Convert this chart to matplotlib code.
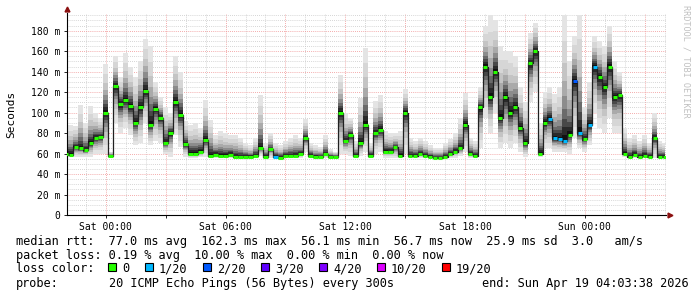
import numpy as np
import matplotlib
matplotlib.use('Agg')
import matplotlib.pyplot as plt
from matplotlib.ticker import MultipleLocator, FuncFormatter
from matplotlib.patches import Rectangle

# time axis: hours relative to Sat 00:00, one sample every 15 minutes
t_start = -2.0
t_step = 0.25

# median rtt per sample (ms)
median = [60, 59, 66, 65, 63, 70, 75, 76, 100, 58,
          126, 108, 112, 106, 90, 105, 121, 88, 104, 95,
          70, 80, 110, 98, 69, 60, 60, 62, 73, 58,
          59, 58, 58, 59, 57, 57, 57, 57, 58, 65,
          57, 64, 57, 56, 58, 58, 58, 60, 75, 58,
          57, 57, 60, 57, 57, 100, 72, 78, 58, 70,
          88, 58, 80, 83, 62, 62, 66, 58, 100, 58,
          58, 60, 58, 57, 56, 56, 57, 60, 62, 65,
          88, 60, 58, 105, 145, 115, 140, 95, 115, 100,
          105, 85, 70, 148, 160, 60, 90, 94, 75, 74,
          72, 78, 131, 80, 74, 88, 145, 135, 125, 145,
          115, 117, 60, 57, 59, 57, 58, 57, 75, 57,
          57]

# fastest ping per sample (bottom of the smoke)
lo = [57, 57, 57, 57, 57, 57, 60, 60, 60, 56,
      90, 80, 85, 78, 68, 70, 90, 68, 72, 70,
      60, 57, 78, 66, 57, 56, 56, 57, 57, 56,
      56, 56, 56, 56, 56, 56, 56, 56, 56, 58,
      56, 56, 56, 56, 56, 56, 56, 56, 62, 56,
      56, 56, 56, 56, 56, 60, 60, 58, 56, 58,
      62, 56, 60, 62, 56, 56, 56, 56, 60, 56,
      56, 56, 56, 56, 56, 56, 56, 56, 56, 58,
      62, 56, 56, 65, 95, 80, 100, 65, 70, 65,
      70, 62, 57, 110, 120, 57, 65, 65, 62, 62,
      62, 60, 75, 65, 62, 68, 100, 85, 80, 95,
      80, 80, 57, 56, 56, 56, 56, 56, 56, 56,
      56]

# slowest ping per sample (top of the smoke)
hi = [80, 88, 87, 107, 90, 106, 100, 95, 147, 62,
      155, 135, 158, 145, 135, 150, 172, 165, 130, 115,
      105, 100, 155, 140, 92, 88, 90, 85, 112, 93,
      78, 82, 80, 78, 78, 75, 70, 68, 75, 117,
      70, 80, 70, 68, 72, 75, 78, 75, 94, 70,
      68, 66, 78, 64, 62, 137, 100, 95, 72, 114,
      163, 70, 111, 117, 82, 80, 80, 82, 123, 75,
      72, 75, 72, 68, 65, 65, 70, 74, 80, 95,
      119, 75, 72, 125, 185, 195, 190, 165, 160, 160,
      155, 125, 110, 178, 188, 90, 120, 125, 118, 125,
      195, 150, 175, 195, 105, 130, 175, 170, 165, 185,
      150, 140, 85, 75, 78, 72, 78, 70, 100, 72,
      70]

# lost pings out of 20 per sample
loss = [0] * len(median)
loss[42] = 1
loss[97] = 1
loss[98] = 1
loss[99] = 1
loss[100] = 1
loss[102] = 2
loss[103] = 1
loss[105] = 1
loss[106] = 1

loss_levels = [0, 1, 2, 3, 4, 10, 19]
loss_colors = ['#26ff00', '#00b8ff', '#0059ff', '#5e00ff', '#7e00ff', '#dd00ff', '#ff0000']
loss_labels = ['0', '1/20', '2/20', '3/20', '4/20', '10/20', '19/20']

time_labels = {0: 'Sat 00:00', 6: 'Sat 06:00', 12: 'Sat 12:00', 18: 'Sat 18:00', 24: 'Sun 00:00'}

mono = 'DejaVu Sans Mono'

t = t_start + t_step * np.arange(len(median))
med = np.array(median, dtype=float)
lo_a = np.array(lo, dtype=float)
hi_a = np.array(hi, dtype=float)


def loss_color(n):
    c = loss_colors[0]
    for lv, col in zip(loss_levels, loss_colors):
        if n >= lv:
            c = col
    return c


fig = plt.figure(figsize=(6.97, 2.97), dpi=100)
ax = fig.add_axes([67 / 697, 82 / 297, 599 / 697, 202 / 297])

# smoke, lighter further away from the median
fracs = [1.0, 0.8, 0.62, 0.48, 0.36, 0.26, 0.18, 0.11, 0.05]
grays = ['#e4e4e4', '#d6d6d6', '#c4c4c4', '#aaaaaa', '#8c8c8c', '#6a6a6a', '#484848', '#2a2a2a', '#111111']
for f, g in zip(fracs, grays):
    ax.fill_between(t, med - (med - lo_a) * f, med + (hi_a - med) * f,
                    step='mid', color=g, lw=0, zorder=2)

ax.plot(t, med, drawstyle='steps-mid', color='#202020', lw=0.9, zorder=3)
ax.hlines(med, t - t_step * 0.45, t + t_step * 0.45,
          colors=[loss_color(n) for n in loss], lw=2.2, zorder=4)

ax.set_xlim(-1.94, 28.06)
ax.set_ylim(0, 197.3)

ax.xaxis.set_major_locator(MultipleLocator(3))
ax.xaxis.set_minor_locator(MultipleLocator(1))
ax.xaxis.set_major_formatter(FuncFormatter(lambda v, p: time_labels.get(int(round(v)), '')))
ax.yaxis.set_major_locator(MultipleLocator(20))
ax.yaxis.set_minor_locator(MultipleLocator(5))
ax.yaxis.set_major_formatter(FuncFormatter(lambda v, p: '0' if v == 0 else '%d m' % v))

ax.set_axisbelow(True)
ax.grid(which='minor', color='#c8c8c8', linestyle=(0, (1, 1.5)), lw=0.6)
ax.grid(which='major', color='#f09090', linestyle=(0, (1, 1.5)), lw=0.6)

for s in ['top', 'right']:
    ax.spines[s].set_visible(False)
for s in ['left', 'bottom']:
    ax.spines[s].set_color('black')
    ax.spines[s].set_linewidth(0.8)

ax.tick_params(which='major', length=2, width=0.6, pad=3, labelsize=7)
ax.tick_params(which='minor', length=0)
for lab in ax.get_xticklabels() + ax.get_yticklabels():
    lab.set_family(mono)

ax.plot(0, 1.02, marker='^', ms=3.5, color='#8b1010', transform=ax.transAxes, clip_on=False)
ax.plot(1.006, 0, marker='>', ms=3.5, color='#8b1010', transform=ax.transAxes, clip_on=False)

fig.text(11 / 697, 1 - 114 / 297, 'Seconds', rotation=90, ha='center', va='center',
         family=mono, size=8)
fig.text(686 / 697, 1 - 61 / 297, 'RRDTOOL / TOBI OETIKER', rotation=270, ha='center',
         va='center', family=mono, size=6.1, color='#c0c0c0')

# legend block
fs = 8.6
def line(x, y, s, ha='left'):
    fig.text(x / 697, 1 - y / 297, s, ha=ha, va='center', family=mono, size=fs)

line(16, 241, 'median rtt:  77.0 ms avg  162.3 ms max  56.1 ms min  56.7 ms now  25.9 ms sd  3.0   am/s')
line(16, 255, 'packet loss: 0.19 % avg  10.00 % max  0.00 % min  0.00 % now')
line(16, 269, 'loss color:')
box_x = [108, 145, 203, 261, 319, 377, 442]
lab_x = [122, 159, 217, 275, 333, 391, 456]
for bx, lx, col, lab in zip(box_x, lab_x, loss_colors, loss_labels):
    fig.patches.append(Rectangle((bx / 697, 1 - 270.5 / 297), 7.5 / 697, 7.5 / 297,
                                 transform=fig.transFigure, facecolor=col,
                                 edgecolor='black', lw=0.8))
    line(lx, 268.5, lab)
line(16, 283, 'probe:')
line(109, 283, '20 ICMP Echo Pings (56 Bytes) every 300s')
line(689, 283, 'end: Sun Apr 19 04:03:38 2026', ha='right')

fig.savefig('out.png', dpi=100)
